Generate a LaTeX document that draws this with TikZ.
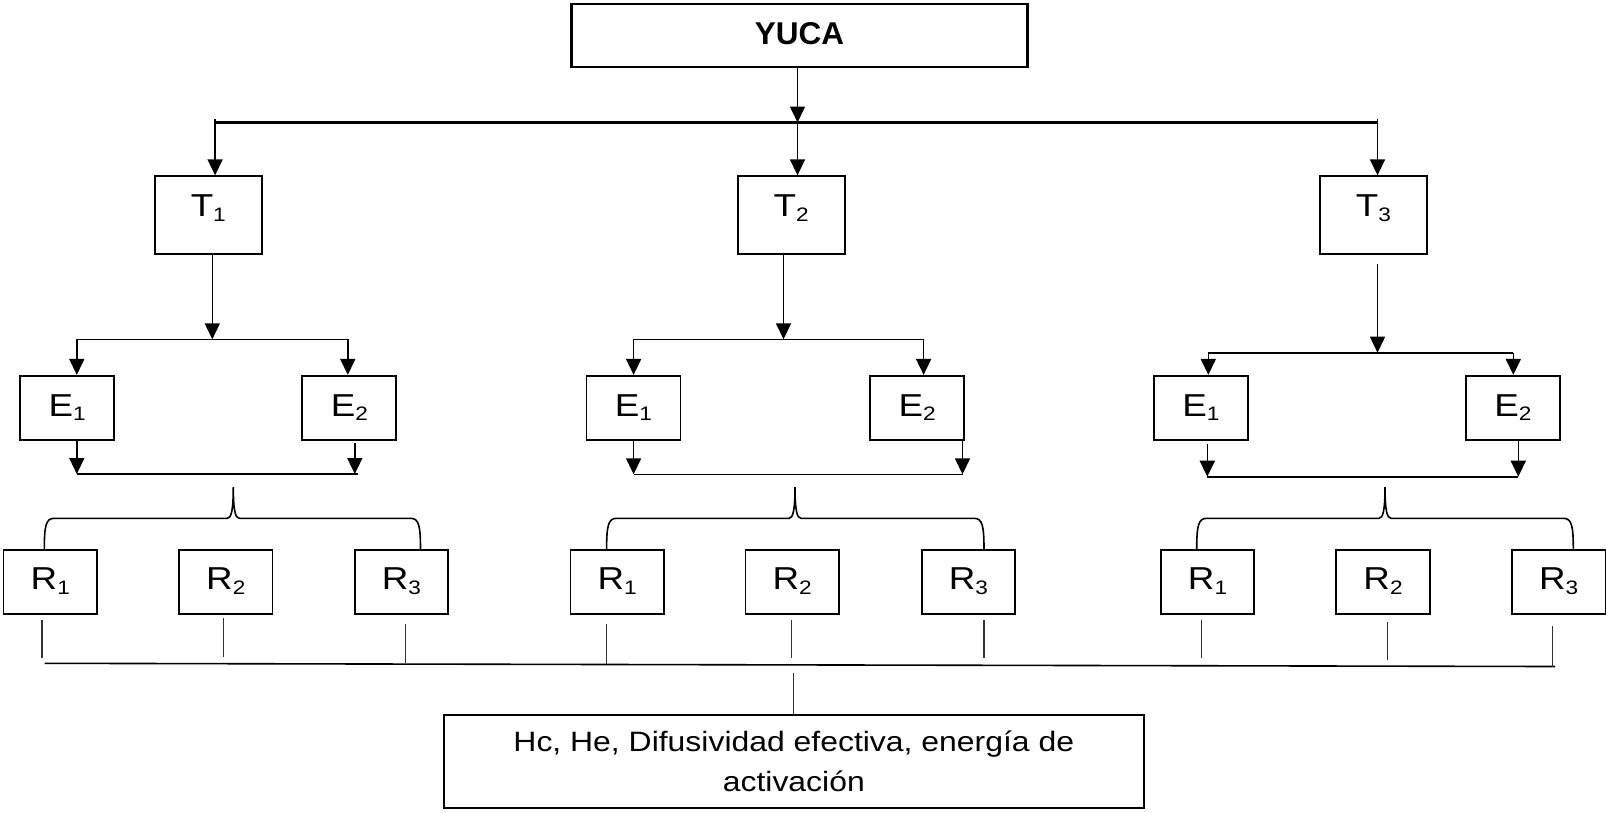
\documentclass[tikz,border=0pt]{standalone}
\usepackage{graphicx}
\usepackage{fontspec}
\setmainfont{Liberation Sans}
\usetikzlibrary{arrows.meta}
\newcommand\sbx[1]{\raisebox{-4.7pt}{\fontsize{19.5}{20}\selectfont #1}}
\newcommand\lbl[4]{\raisebox{#4pt}{\scalebox{1.16}[1]{#1\sbx{#2}}}\hspace{#3pt}}
\newcommand\wline[1]{\scalebox{1.14}[1]{#1}}
\newcommand\bracepath[3]{%
  \draw[ln] (#2,550) .. controls (#2,526) and (#2+1.5,518.3) .. (#2+10,518.3)
    -- (#1-6,518.3) .. controls (#1-2,518.3) and (#1,510) .. (#1,487)
    .. controls (#1,510) and (#1+2,518.3) .. (#1+6,518.3)
    -- (#3-10,518.3) .. controls (#3-1.5,518.3) and (#3,526) .. (#3,550);}
\begin{document}
\begin{tikzpicture}[x=1pt,y=-1pt,
  box/.style={draw, line width=1.7pt, inner sep=0pt, text height=22.7pt, text depth=0pt,
    font=\fontsize{31.7}{36}\selectfont},
  tbox/.style={box, minimum width=107pt, minimum height=78pt},
  ebox/.style={box, minimum width=94pt, minimum height=64.5pt},
  rbox/.style={box, minimum width=93.5pt, minimum height=64pt},
  obox/.style={draw, line width=2.2pt, inner sep=0pt, minimum width=700.4pt, minimum height=93.3pt,
    align=center, font=\fontsize{28}{40}\selectfont},
  ln/.style={line width=1.6pt},
  stub/.style={line width=1.5pt, black!80},
  thk/.style={line width=3.6pt},
  arr/.style={line width=1.6pt, -{Triangle[width=15pt,length=16pt]}},
]
\useasboundingbox (0,0) rectangle (1606,812);

% top
\node[box, line width=2.2pt, minimum width=456pt, minimum height=63pt,
  font=\bfseries\fontsize{31.5}{36}\selectfont] (yuca) at (799.4,35.3) {\raisebox{2pt}{YUCA}};
\coordinate (tl) at (215.1,122.5);
\coordinate (tm) at (797.5,122.5);
\coordinate (tr) at (1377.5,122.5);
\draw[thk] (tl) -- (tr);
\draw[arr] (yuca.south -| tm) -- (tm);

\node[tbox] (T1) at (208.3,215.2) {\lbl{T}{1}{2}{10.2}};
\node[tbox] (T2) at (791.2,215.2) {\lbl{T}{2}{2}{10.2}};
\node[tbox] (T3) at (1373.4,215.2) {\lbl{T}{3}{2}{10.2}};
\draw[arr] ([yshift=4pt]tl) -- (tl |- T1.north);
\draw[arr] (tm) -- (tm |- T2.north);
\draw[arr] ([yshift=4pt]tr) -- (tr |- T3.north);

% ---------- group 1
\coordinate (a1) at (212.3,339.3);
\coordinate (a1l) at (76.8,339.3);
\coordinate (a1r) at (347.8,339.3);
\draw[ln] (a1l) -- (a1r);
\draw[arr] (T1.south -| a1) -- (a1);
\node[ebox] (E11) at (67.2,408) {\lbl{E}{1}{25}{3.2}};
\node[ebox] (E12) at (349.3,408) {\lbl{E}{2}{19}{3.2}};
\draw[arr] (a1l) -- (a1l |- E11.north);
\draw[arr] (a1r) -- (a1r |- E12.north);
\coordinate (b1l) at (76.8,474);
\coordinate (b1r) at (354.8,474);
\draw[ln] (b1l) -- ([xshift=3pt]b1r);
\draw[arr] (E11.south -| b1l) -- (b1l);
\draw[arr] ([yshift=-2pt]E12.south -| b1r) -- (b1r);
\bracepath{233.3}{44.3}{420.5}
\node[rbox] (R11) at (50.3,582) {\lbl{R}{1}{20}{3.7}};
\node[rbox] (R12) at (225.8,582) {\lbl{R}{2}{17.5}{3.7}};
\node[rbox] (R13) at (401.5,582) {\lbl{R}{3}{17.5}{3.7}};

% ---------- group 2
\coordinate (a2) at (783.5,339.3);
\coordinate (a2l) at (633.6,339.3);
\coordinate (a2r) at (923.6,339.3);
\draw[ln] (a2l) -- (a2r);
\draw[arr] (T2.south -| a2) -- (a2);
\node[ebox] (E21) at (633.5,408) {\lbl{E}{1}{22}{3.2}};
\node[ebox] (E22) at (917.2,408) {\lbl{E}{2}{19}{3.2}};
\draw[arr] (a2l) -- (a2l |- E21.north);
\draw[arr] (a2r) -- (a2r |- E22.north);
\coordinate (b2l) at (633.6,474.3);
\coordinate (b2r) at (962.5,474.3);
\draw[ln] (b2l) -- (b2r);
\draw[arr] (E21.south -| b2l) -- (b2l);
\draw[arr] (E22.south -| b2r) -- (b2r);
\bracepath{795}{606.6}{984}
\node[rbox] (R21) at (617.1,582) {\lbl{R}{1}{20}{3.7}};
\node[rbox] (R22) at (792.2,582) {\lbl{R}{2}{18}{3.7}};
\node[rbox] (R23) at (968.4,582) {\lbl{R}{3}{17}{3.7}};

% ---------- group 3
\coordinate (a3) at (1377.5,352.7);
\coordinate (a3l) at (1208.3,352.7);
\coordinate (a3r) at (1513.3,352.7);
\draw[ln] (a3l) -- (a3r);
\draw[arr] ([yshift=-9pt]T3.south -| a3) -- (a3);
\node[ebox] (E31) at (1200.8,408) {\lbl{E}{1}{1}{3.2}};
\node[ebox] (E32) at (1513,408) {\lbl{E}{2}{-1}{3.2}};
\draw[arr] (a3l) -- (a3l |- E31.north);
\draw[arr] (a3r) -- (a3r |- E32.north);
\coordinate (b3l) at (1207.3,476.7);
\coordinate (b3r) at (1518.3,476.7);
\draw[ln] (b3l) -- (b3r);
\draw[arr] ([yshift=-2.5pt]E31.south -| b3l) -- (b3l);
\draw[arr] (E32.south -| b3r) -- (b3r);
\bracepath{1385}{1196.7}{1573.3}
\node[rbox] (R31) at (1207.5,582) {\lbl{R}{1}{21}{3.7}};
\node[rbox] (R32) at (1383,582) {\lbl{R}{2}{17.5}{3.7}};
\node[rbox] (R33) at (1558.7,582) {\lbl{R}{3}{16.5}{3.7}};

% ---------- collector
\coordinate (bl) at (44.6,663.3);
\coordinate (br) at (1555,666.5);
\draw[ln] (bl) -- (br);
\draw[stub] (R11.south -| 42,0) ++(0,5.3) -- (42,658.3);
\draw[stub] (R12.south -| 223.3,0) ++(0,3.3) -- (223.3,656.7);
\draw[stub] (R13.south -| 405.6,0) ++(0,9.3) -- (405.6,663.3);
\draw[stub] (R21.south -| 606.4,0) ++(0,9.3) -- (606.4,664);
\draw[stub] (R22.south -| 791.4,0) ++(0,5.3) -- (791.4,658.3);
\draw[stub] (R23.south -| 984,0) ++(0,5.3) -- (984,658.3);
\draw[stub] (R31.south -| 1201.7,0) ++(0,5.3) -- (1201.7,658.3);
\draw[stub] (R32.south -| 1387.7,0) ++(0,6.7) -- (1387.7,660);
\draw[stub] (R33.south -| 1552.7,0) ++(0,11) -- (1552.7,666.5);

\node[obox] (out) at (793.8,761.7) {\wline{Hc, He, Difusividad efectiva, energía de}\\\wline{activación}};
\coordinate (om) at (793.6,673);
\draw[stub] (om) -- (om |- out.north);
\end{tikzpicture}
\end{document}
